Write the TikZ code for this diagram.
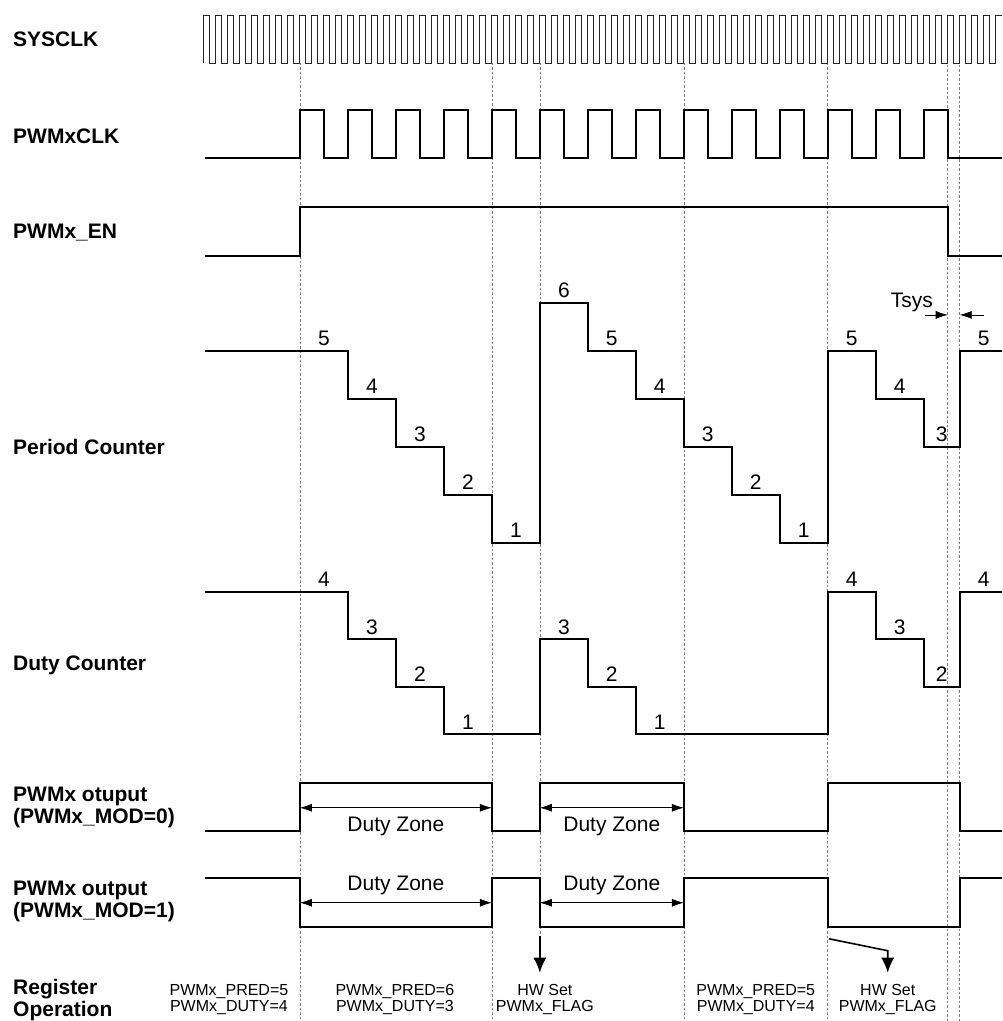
\documentclass[tikz,border=0pt]{standalone}
\usepackage{fontspec}
\setmainfont{Liberation Sans}
\usetikzlibrary{arrows.meta}
\tikzset{
        wave/.style={line width=1.8pt, black},
        clk/.style={line width=0.9pt, black!85},
        guide/.style={line width=0.6pt, gray, dash pattern=on 2.5pt off 2pt},
        sig/.style={font=\fontsize{21}{22}\selectfont\bfseries, anchor=base west, align=left, inner sep=0pt},
        val/.style={font=\fontsize{21}{22}\selectfont, anchor=base, inner sep=0pt},
        reg/.style={font=\fontsize{16}{16}\selectfont, align=center, inner sep=0pt},
        span/.style={<->, >={Latex[length=12pt,width=8pt]}, line width=0.7pt},
        tick/.style={->, >={Latex[length=12pt,width=8pt]}, line width=0.7pt},
        flag/.style={->, >={Latex[length=15pt,width=13pt]}, line width=1.6pt},
        }

\begin{document}
\begin{tikzpicture}[x=1pt,y=-1pt]

		% page..........................
		\fill [white] (0,0) rectangle (1002,1021);

		% dashed guide lines...................
		\foreach \x/\ya/\yb in {300/63/1021, 492/63/1021, 540/63/936, 684/63/1021, 828/63/1021, 948/38/1021, 960/38/1021}
			\draw [guide] (\x,\ya) -- (\x,\yb);

		% SYSCLK...................
		\node [sig] (sysclk) at (13,47) {SYSCLK};
		\draw [clk] (204,63) \foreach \i in {1,...,66} { -- ++(0,-48) -- ++(6,0) -- ++(0,48) -- ++(6,0)} -- ++(0,-48) -- (1002,15);

		% PWMxCLK...................
		\node [sig] (pwmclk) at (13,144) {PWMxCLK};
		\draw [wave] (205,158) -- (300,158) \foreach \i in {1,...,14} { -- ++(0,-48) -- ++(24,0) -- ++(0,48) -- ++(24,0)} -- (1002,158);

		% PWMx_EN...................
		\node [sig] (pwmen) at (13,239) {PWMx\_EN};
		\draw [wave] (205,256) -| (300,207) -| (948,256) -- (1002,256);

		% Period counter...................
		\node [sig] (period) at (13,455) {Period Counter};
		\draw [wave] (205,351) -| (348,399) -| (396,447) -| (444,495) -| (492,543) -| (540,303) -| (588,351) -| (636,399) -| (684,447) -| (732,495) -| (780,543) -| (828,351) -| (876,399) -| (924,447) -| (960,351) -- (1002,351);
		\foreach \x/\v in {324/5, 372/4, 420/3, 468/2, 516/1, 564/6, 612/5, 660/4, 708/3, 756/2, 804/1, 852/5, 900/4, 942/3, 984/5}
			\node [val] (pc\x) at (\x,{591-48*\v-5}) {\v};

		% Duty counter...................
		\node [sig] (duty) at (13,671) {Duty Counter};
		\draw [wave] (205,592) -| (348,639.5) -| (396,687) -| (444,734.5) -| (540,639.5) -| (588,687) -| (636,734.5) -| (828,592) -| (876,639.5) -| (924,687) -| (960,592) -- (1002,592);
		\foreach \x/\v in {324/4, 372/3, 420/2, 468/1, 564/3, 612/2, 660/1, 852/4, 900/3, 942/2, 984/4}
			\node [val] (dc\x) at (\x,{782-47.5*\v-5}) {\v};

		% Tsys.....................
		\node [val] (tsys) at (912,308) {Tsys};
		\coordinate (ts1) at (925,315);
		\coordinate (ts2) at (948,315);
		\coordinate (ts3) at (984,315);
		\coordinate (ts4) at (960,315);
		\draw [tick] (ts1) -- (ts2);
		\draw [tick] (ts3) -- (ts4);

		% PWMx output, MOD=0...................
		\node [sig, anchor=west] (mod0) at (13,808) {PWMx otuput\\(PWMx\_MOD=0)};
		\draw [wave] (205,831) -| (300,783) -| (492,831) -| (540,783) -| (684,831) -| (828,783) -| (960,831) -- (1002,831);
		\coordinate (za1) at (300,808);
		\coordinate (zb1) at (492,808);
		\coordinate (za2) at (540,808);
		\coordinate (zb2) at (684,808);
		\draw [span] (za1) -- (zb1);
		\draw [span] (za2) -- (zb2);
		\node [val] (dz1) at (396,832) {Duty Zone};
		\node [val] (dz2) at (612,832) {Duty Zone};

		% PWMx output, MOD=1...................
		\node [sig, anchor=west] (mod1) at (13,902) {PWMx output\\(PWMx\_MOD=1)};
		\draw [wave] (205,878) -| (300,927) -| (492,878) -| (540,927) -| (684,878) -| (828,927) -| (960,878) -- (1002,878);
		\coordinate (za3) at (300,903);
		\coordinate (zb3) at (492,903);
		\coordinate (za4) at (540,903);
		\coordinate (zb4) at (684,903);
		\draw [span] (za3) -- (zb3);
		\draw [span] (za4) -- (zb4);
		\node [val] (dz3) at (396,891) {Duty Zone};
		\node [val] (dz4) at (612,891) {Duty Zone};

		% register operation...................
		\node [sig, anchor=west] (regop) at (13,1000) {Register\\Operation};
		\node [reg] (op1) at (229,1000) {PWMx\_PRED=5\\PWMx\_DUTY=4};
		\node [reg] (op2) at (395,1000) {PWMx\_PRED=6\\PWMx\_DUTY=3};
		\node [reg] (op3) at (545,1000) {HW Set\\PWMx\_FLAG};
		\node [reg] (op4) at (756,1000) {PWMx\_PRED=5\\PWMx\_DUTY=4};
		\node [reg] (op5) at (888,1000) {HW Set\\PWMx\_FLAG};

		% flag arrows...................
		\coordinate (fa1) at (540,936);
		\coordinate (fb1) at (540,973);
		\coordinate (fa2) at (829,939);
		\coordinate (fk2) at (888,951);
		\coordinate (fb2) at (888,973);
		\draw [flag] (fa1) -- (fb1);
		\draw [flag] (fa2) -- (fk2) -- (fb2);

\end{tikzpicture}
\end{document}
